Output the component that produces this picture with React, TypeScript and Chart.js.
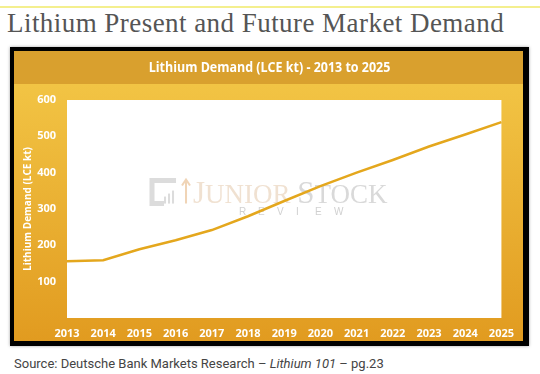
import React, { useEffect, useRef } from "react";
import { Chart, registerables } from "chart.js";

Chart.register(...registerables);

const years = ["2013", "2014", "2015", "2016", "2017", "2018", "2019", "2020", "2021", "2022", "2023", "2024", "2025"];
const demand = [156, 159, 189, 214, 242, 280, 322, 363, 400, 435, 472, 505, 539];
const yMin = 0;
const yMax = 600;
const yStep = 100;

const pageTitle = "Lithium Present and Future Market Demand";
const chartTitle = "Lithium Demand (LCE kt) - 2013 to 2025";
const yTitle = "Lithium Demand (LCE kt)";

const SANS = "'Open Sans', sans-serif";

const backgroundPlugin = {
  id: "bgPanel",
  beforeDraw(chart: any) {
    const { ctx, chartArea, width, height } = chart;
    const band = 33;
    ctx.save();
    ctx.fillStyle = "#d9a02e";
    ctx.fillRect(0, 0, width, band);
    const g = ctx.createLinearGradient(0, band, 0, height);
    g.addColorStop(0, "#f2c444");
    g.addColorStop(1, "#e19b20");
    ctx.fillStyle = g;
    ctx.fillRect(0, band, width, height - band);
    ctx.fillStyle = "#ffffff";
    ctx.fillRect(chartArea.left, chartArea.top, chartArea.right - chartArea.left, chartArea.bottom - chartArea.top);
    ctx.restore();
  },
};

const headerTitlePlugin = {
  id: "headerTitle",
  afterDraw(chart: any) {
    const { ctx, width } = chart;
    ctx.save();
    ctx.fillStyle = "#ffffff";
    ctx.font = "bold 14.5px " + SANS;
    ctx.textAlign = "center";
    ctx.textBaseline = "middle";
    ctx.translate(width / 2 + 1, 17);
    ctx.scale(0.86, 1);
    ctx.fillText(chartTitle, 0, 0);
    ctx.restore();
  },
};

const watermarkPlugin = {
  id: "watermark",
  beforeDatasetsDraw(chart: any) {
    const { ctx, chartArea } = chart;
    const w = chartArea.right - chartArea.left;
    const h = chartArea.bottom - chartArea.top;
    const cx = chartArea.left + w * 0.465;
    const cy = chartArea.top + h * 0.42;
    ctx.save();
    const lx = cx - 119;
    // logo bracket
    ctx.strokeStyle = "rgba(185,185,185,0.5)";
    ctx.lineWidth = 5;
    ctx.beginPath();
    ctx.moveTo(lx + 26, cy - 11);
    ctx.lineTo(lx + 2, cy - 11);
    ctx.lineTo(lx + 2, cy + 12);
    ctx.lineTo(lx + 14, cy + 12);
    ctx.stroke();
    ctx.fillStyle = "rgba(185,185,185,0.5)";
    ctx.fillRect(lx + 14, cy + 5, 2, 7);
    ctx.fillRect(lx + 18, cy + 2, 2, 10);
    ctx.fillRect(lx + 22, cy - 1, 2, 13);
    // arrow
    ctx.strokeStyle = "rgba(225,170,110,0.5)";
    ctx.lineWidth = 2;
    ctx.beginPath();
    ctx.moveTo(lx + 36, cy + 12);
    ctx.lineTo(lx + 36, cy - 12);
    ctx.moveTo(lx + 32, cy - 6);
    ctx.lineTo(lx + 36, cy - 12);
    ctx.lineTo(lx + 40, cy - 6);
    ctx.stroke();
    // text
    ctx.textBaseline = "alphabetic";
    ctx.textAlign = "left";
    const base = cy + 11;
    let x = lx + 43;
    ctx.fillStyle = "rgba(228,200,172,0.55)";
    ctx.font = "31px 'Liberation Serif', serif";
    ctx.fillText("J", x, base);
    x += ctx.measureText("J").width;
    ctx.font = "27px 'Liberation Serif', serif";
    ctx.fillText("UNIOR", x, base);
    x += ctx.measureText("UNIOR ").width;
    ctx.fillStyle = "rgba(180,180,180,0.5)";
    ctx.font = "31px 'Liberation Serif', serif";
    ctx.fillText("S", x, base);
    x += ctx.measureText("S").width;
    ctx.font = "27px 'Liberation Serif', serif";
    ctx.fillText("TOCK", x, base);
    ctx.font = "10px 'Liberation Sans', sans-serif";
    ctx.fillStyle = "rgba(170,170,170,0.55)";
    const letters = "REVIEW".split("");
    letters.forEach((l, i) => ctx.fillText(l, cx - 30 + i * 19, cy + 23));
    ctx.restore();
  },
};

function LineChart() {
  const ref = useRef<HTMLCanvasElement | null>(null);
  useEffect(() => {
    if (!ref.current) return;
    const chart = new Chart(ref.current, {
      type: "line",
      data: {
        labels: years,
        datasets: [
          {
            data: demand,
            borderColor: "#e4a71d",
            borderWidth: 2.5,
            pointRadius: 0,
            tension: 0,
            fill: false,
          },
        ],
      },
      options: {
        animation: false,
        responsive: false,
        devicePixelRatio: 1,
        layout: { padding: { left: 0, right: 21, top: 49, bottom: 0 } },
        plugins: {
          legend: { display: false },
          tooltip: { enabled: false },
          title: { display: false },
        },
        scales: {
          x: {
            offset: false,
            grid: { display: false, drawTicks: false },
            border: { display: false },
            ticks: {
              color: "#ffffff",
              font: { family: SANS, size: 11, weight: "bold" },
              padding: 9,
              maxRotation: 0,
              autoSkip: false,
            },
            afterFit: (s: any) => {
              s.height = 23;
            },
          },
          y: {
            min: yMin,
            max: yMax,
            grid: { display: false, drawTicks: false },
            border: { display: false },
            ticks: {
              stepSize: yStep,
              color: "#ffffff",
              font: { family: SANS, size: 11, weight: "bold" },
              padding: 11,
              callback: (v: any) => (Number(v) === 0 ? "" : String(v)),
            },
            title: {
              display: true,
              text: yTitle,
              color: "#ffffff",
              font: { family: SANS, size: 10, weight: "bold" },
              padding: { top: 8, bottom: 0 },
            },
            afterFit: (s: any) => {
              s.width = 53;
            },
          },
        },
      },
      plugins: [backgroundPlugin, watermarkPlugin, headerTitlePlugin],
    });
    return () => chart.destroy();
  }, []);
  return <canvas ref={ref} width={509} height={290} style={{ display: "block", width: 509, height: 290 }} />;
}

export default function App() {
  return (
    <div style={{ position: "absolute", left: 0, top: 0, width: 540, height: 374, background: "#ffffff", overflow: "hidden" }}>
      <div style={{ position: "absolute", left: 0, top: 6, width: 540, height: 2, background: "#f4ef8e" }} />
      <div
        style={{
          position: "absolute",
          left: 7,
          top: 10,
          fontFamily: "'Liberation Serif', serif",
          fontSize: 27,
          lineHeight: "27px",
          letterSpacing: "0.45px",
          color: "#555555",
          whiteSpace: "nowrap",
        }}
      >
        {pageTitle}
      </div>
      <div
        style={{
          position: "absolute",
          left: 10,
          top: 47,
          borderStyle: "solid",
          borderColor: "#000000",
          borderWidth: "4px 6px 5px 4px",
          boxShadow: "0 0 3px rgba(0,0,0,0.35)",
          width: 509,
          height: 290,
        }}
      >
        <LineChart />
      </div>
      <div
        style={{
          position: "absolute",
          left: 14,
          top: 357,
          fontFamily: "Roboto, sans-serif",
          fontSize: 13,
          lineHeight: "13px",
          color: "#444444",
          whiteSpace: "nowrap",
        }}
      >
        Source: Deutsche Bank Markets Research – <i>Lithium 101</i> – pg.23
      </div>
    </div>
  );
}
